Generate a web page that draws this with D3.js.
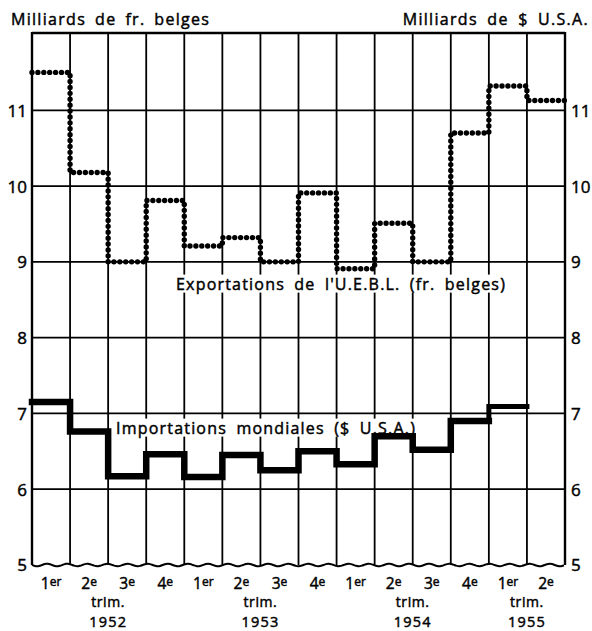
<!DOCTYPE html>
<html>
<head>
<meta charset="utf-8">
<script src="https://cdn.jsdelivr.net/npm/d3@7"></script>
<style>
  body { margin: 0; background: #fff; }
  svg { display: block; font-family: "Open Sans", "DejaVu Sans", sans-serif; }
  svg text { fill: #000; stroke: #000; stroke-width: 0.45px; }
</style>
</head>
<body>
<svg id="chart" width="592" height="631"></svg>
<script>
// quarters from 1952 Q1 to 1955 Q2
const quarters = ["1er", "2e", "3e", "4e", "1er", "2e", "3e", "4e", "1er", "2e", "3e", "4e", "1er", "2e"];
const years = [
  { label: "1952", at: 2 },
  { label: "1953", at: 6 },
  { label: "1954", at: 10 },
  { label: "1955", at: 13 }
];
// Exportations de l'U.E.B.L. (milliards de fr. belges)
const exportations = [11.5, 10.18, 9.0, 9.81, 9.21, 9.32, 9.0, 9.91, 8.91, 9.51, 9.0, 10.7, 11.32, 11.13];
// Importations mondiales (milliards de $ U.S.A.)
const importations = [7.15, 6.76, 6.17, 6.46, 6.16, 6.45, 6.25, 6.5, 6.33, 6.7, 6.52, 6.9, 7.09];
const yTicks = [5, 6, 7, 8, 9, 10, 11];

const svg = d3.select("#chart");
const mLeft = 32, mRight = 565, mTop = 33, mBottom = 565;

const x = d3.scaleLinear().domain([0, quarters.length]).range([mLeft, mRight]);
const y = d3.scaleLinear().domain([5, 12.02]).range([mBottom, mTop]);

// grid: horizontal lines
svg.append("g")
  .selectAll("line")
  .data(yTicks.filter(d => d > 5))
  .enter()
  .append("line")
  .attr("x1", mLeft).attr("x2", mRight)
  .attr("y1", d => y(d)).attr("y2", d => y(d))
  .attr("stroke", "#000").attr("stroke-width", 1.8);

// grid: vertical lines at quarter boundaries
svg.append("g")
  .selectAll("line")
  .data(d3.range(quarters.length + 1))
  .enter()
  .append("line")
  .attr("x1", d => x(d)).attr("x2", d => x(d))
  .attr("y1", mTop - 1).attr("y2", mBottom)
  .attr("stroke", "#000").attr("stroke-width", d => (d === 0 || d === quarters.length) ? 2.4 : 1.8);

// top frame
svg.append("line")
  .attr("x1", mLeft).attr("x2", mRight).attr("y1", mTop).attr("y2", mTop)
  .attr("stroke", "#000").attr("stroke-width", 2.4);

// wavy break line at the bottom
const wave = d3.range(mLeft, mRight + 0.5, 2).map(px => [px, mBottom + 1.3 * Math.sin((px - mLeft) / 3.2)]);
svg.append("path")
  .attr("d", d3.line().curve(d3.curveBasis)(wave))
  .attr("fill", "none").attr("stroke", "#000").attr("stroke-width", 2);

// series labels with white background (grid interrupted)
function label(text, x0, yc) {
  const g = svg.append("g");
  const t = g.append("text")
    .attr("x", x0).attr("y", yc)
    .attr("dy", "0.35em")
    .attr("font-size", 16)
    .attr("letter-spacing", 1.2)
    .attr("word-spacing", 4)
    .text(text);
  const b = t.node().getBBox();
  g.insert("rect", "text")
    .attr("x", b.x - 3).attr("y", b.y + 2)
    .attr("width", b.width + 6).attr("height", b.height - 4)
    .attr("fill", "#fff");
}
label("Exportations de l'U.E.B.L. (fr. belges)", 176, 284);
label("Importations mondiales ($ U.S.A.)", 116, 428);

// step line helper
const step = d3.line().curve(d3.curveStepAfter);

// exportations: dotted step line
const expPts = exportations.map((v, i) => [x(i), y(v)]);
expPts.push([x(exportations.length), y(exportations[exportations.length - 1])]);
svg.append("path")
  .attr("d", step(expPts))
  .attr("fill", "none")
  .attr("stroke", "#000")
  .attr("stroke-width", 5.4)
  .attr("stroke-linecap", "round")
  .attr("stroke-dasharray", "0 5.9");

// importations: thick step line (last quarter lighter)
const impMain = importations.slice(0, 12);
const impPts = impMain.map((v, i) => [x(i), y(v)]);
impPts.push([x(12), y(impMain[11])]);
svg.append("path")
  .attr("d", step(impPts))
  .attr("fill", "none")
  .attr("stroke", "#000")
  .attr("stroke-width", 6.5)
  .attr("stroke-linejoin", "miter")
  .attr("stroke-linecap", "square");

const last = importations[12];
svg.append("path")
  .attr("d", d3.line()([[x(12), y(impMain[11])], [x(12), y(last)], [x(13), y(last)]]))
  .attr("fill", "none")
  .attr("stroke", "#000")
  .attr("stroke-width", 5)
  .attr("stroke-linecap", "square");

// y axis labels (left and right)
svg.append("g")
  .selectAll("text")
  .data(yTicks)
  .enter()
  .append("text")
  .attr("x", 27)
  .attr("y", d => y(d))
  .attr("dy", "0.38em")
  .attr("text-anchor", "end")
  .attr("font-size", 17)
  .text(d => d);

svg.append("g")
  .selectAll("text")
  .data(yTicks)
  .enter()
  .append("text")
  .attr("x", 571)
  .attr("y", d => y(d))
  .attr("dy", "0.38em")
  .attr("text-anchor", "start")
  .attr("font-size", 17)
  .text(d => d);

// unit titles
svg.append("text")
  .attr("x", 11).attr("y", 25)
  .attr("font-size", 16)
  .attr("letter-spacing", 1.3)
  .attr("word-spacing", 3.5)
  .text("Milliards de fr. belges");

svg.append("text")
  .attr("x", 589).attr("y", 25)
  .attr("text-anchor", "end")
  .attr("font-size", 16)
  .attr("letter-spacing", 1.3)
  .attr("word-spacing", 4)
  .text("Milliards de $ U.S.A.");

// quarter labels
const ql = svg.append("g")
  .selectAll("text")
  .data(quarters)
  .enter()
  .append("text")
  .attr("x", (d, i) => x(i + 0.5))
  .attr("y", 589)
  .attr("text-anchor", "middle")
  .attr("font-size", 15.5);
ql.append("tspan").text(d => d.slice(0, 1));
ql.append("tspan")
  .attr("font-size", 12)
  .attr("dy", -3)
  .text(d => d.slice(1));

// trim. / year labels
const yl = svg.append("g")
  .selectAll("g")
  .data(years)
  .enter()
  .append("g");
yl.append("text")
  .attr("x", d => x(d.at))
  .attr("y", 606.5)
  .attr("text-anchor", "middle")
  .attr("font-size", 14)
  .attr("letter-spacing", 0.6)
  .text("trim.");
yl.append("text")
  .attr("x", d => x(d.at))
  .attr("y", 626.5)
  .attr("text-anchor", "middle")
  .attr("font-size", 14.5)
  .attr("letter-spacing", 1.2)
  .text(d => d.label);
</script>
</body>
</html>
